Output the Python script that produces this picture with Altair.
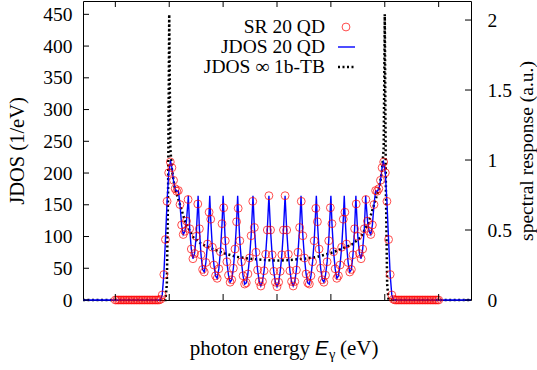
import altair as alt
import pandas as pd

FONT = "Liberation Serif"
FS = 19.5
FT = 20.5

# ---------------- data ----------------
# SR 20 QD (spectral response, a.u., right axis)
sr_energy = [
    1.65, 1.6515, 1.653, 1.6545, 1.656, 1.6575, 1.659, 1.6605, 1.662, 1.6635,
    1.665, 1.6665, 1.668, 1.6695, 1.671, 1.6725, 1.674, 1.6755, 1.677, 1.6785,
    1.68, 1.6815, 1.683, 1.6845, 1.686, 1.6875, 1.689, 1.6905, 1.692, 1.6935,
    1.695, 1.6965, 1.698, 1.6995, 1.701, 1.7025, 1.704, 1.7055, 1.707, 1.7085,
    1.71, 1.7115, 1.713, 1.7145, 1.716, 1.7175, 1.719, 1.7205, 1.722, 1.7235,
    1.725, 1.7265, 1.728, 1.7295, 1.731, 1.7325, 1.734, 1.7355, 1.737, 1.7385,
    1.74, 1.7415, 1.743, 1.7445, 1.746, 1.7475, 1.749, 1.7505, 1.752, 1.7535,
    1.755, 1.7565, 1.758, 1.7595, 1.761, 1.7625, 1.764, 1.7655, 1.767, 1.7685,
    1.77, 1.7715, 1.773, 1.7745, 1.776, 1.7775, 1.779, 1.7805, 1.782, 1.7835,
    1.785, 1.7865, 1.788, 1.7895, 1.791, 1.7925, 1.794, 1.7955, 1.797, 1.7985,
    1.8, 1.8015, 1.803, 1.8045, 1.806, 1.8075, 1.809, 1.8105, 1.812, 1.8135,
    1.815, 1.8165, 1.818, 1.8195, 1.821, 1.8225, 1.824, 1.8255, 1.827, 1.8285,
    1.83, 1.8315, 1.833, 1.8345, 1.836, 1.8375, 1.839, 1.8405, 1.842, 1.8435,
    1.845, 1.8465, 1.848, 1.8495, 1.851, 1.8525, 1.854, 1.8555, 1.857, 1.8585,
    1.86, 1.8615, 1.863, 1.8645, 1.866, 1.8675, 1.869, 1.8705, 1.872, 1.8735,
    1.875, 1.8765, 1.878, 1.8795, 1.881, 1.8825, 1.884, 1.8855, 1.887, 1.8885,
    1.89, 1.8915, 1.893, 1.8945, 1.896, 1.8975, 1.899, 1.9005, 1.902, 1.9035,
    1.905, 1.9065, 1.908, 1.9095, 1.911, 1.9125, 1.914, 1.9155, 1.917, 1.9185,
    1.92, 1.9215, 1.923, 1.9245, 1.926, 1.9275, 1.929, 1.9305, 1.932, 1.9335,
    1.935, 1.9365, 1.938, 1.9395, 1.941, 1.9425, 1.944, 1.9455, 1.947, 1.9485,
    1.95,
]
sr_value = [
    0, 0, 0, 0, 0, 0, 0, 0, 0, 0,
    0, 0, 0, 0, 0, 0, 0, 0, 0, 0,
    0, 0, 0, 0, 0, 0, 0, 0, 0.005, 0.036,
    0.182, 0.432, 0.705, 0.909, 0.986, 0.945, 0.855, 0.795, 0.777, 0.782,
    0.682, 0.536, 0.468, 0.491, 0.564, 0.718, 0.509, 0.364, 0.295, 0.332,
    0.455, 0.686, 0.509, 0.323, 0.218, 0.2, 0.268, 0.4, 0.627, 0.577,
    0.377, 0.25, 0.173, 0.155, 0.223, 0.345, 0.545, 0.659, 0.423, 0.273,
    0.177, 0.127, 0.145, 0.227, 0.364, 0.559, 0.655, 0.423, 0.273, 0.173,
    0.114, 0.123, 0.186, 0.3, 0.459, 0.705, 0.518, 0.341, 0.214, 0.132,
    0.1, 0.132, 0.209, 0.327, 0.5, 0.745, 0.5, 0.323, 0.205, 0.127,
    0.095, 0.127, 0.205, 0.323, 0.5, 0.745, 0.5, 0.327, 0.209, 0.132,
    0.1, 0.132, 0.214, 0.341, 0.518, 0.705, 0.459, 0.3, 0.186, 0.123,
    0.114, 0.173, 0.273, 0.423, 0.655, 0.559, 0.364, 0.227, 0.145, 0.127,
    0.177, 0.273, 0.423, 0.659, 0.545, 0.345, 0.223, 0.155, 0.173, 0.25,
    0.377, 0.577, 0.627, 0.4, 0.268, 0.2, 0.218, 0.323, 0.509, 0.686,
    0.455, 0.332, 0.295, 0.364, 0.509, 0.718, 0.564, 0.491, 0.468, 0.536,
    0.682, 0.782, 0.777, 0.795, 0.855, 0.945, 0.986, 0.909, 0.705, 0.432,
    0.182, 0.036, 0.005, 0, 0, 0, 0, 0, 0, 0,
    0, 0, 0, 0, 0, 0, 0, 0, 0, 0,
    0, 0, 0, 0, 0, 0, 0, 0, 0, 0,
    0,
]

# JDOS 20 QD (1/eV, left axis)
jdos_energy = [
    1.62, 1.6905, 1.692, 1.6935, 1.695, 1.6965, 1.698, 1.6995, 1.701, 1.7013,
    1.7025, 1.704, 1.7055, 1.707, 1.7085, 1.71, 1.7115, 1.713, 1.7145, 1.716,
    1.7175, 1.7177, 1.719, 1.7205, 1.722, 1.7235, 1.725, 1.7265, 1.7268, 1.728,
    1.7295, 1.731, 1.7325, 1.734, 1.7355, 1.737, 1.7376, 1.7385, 1.74, 1.7415,
    1.743, 1.7445, 1.746, 1.7475, 1.749, 1.75, 1.7505, 1.752, 1.7535, 1.755,
    1.7565, 1.758, 1.7595, 1.761, 1.7625, 1.7635, 1.764, 1.7655, 1.767, 1.7685,
    1.77, 1.7715, 1.773, 1.7745, 1.776, 1.7775, 1.7777, 1.779, 1.7805, 1.782,
    1.7835, 1.785, 1.7865, 1.788, 1.7895, 1.791, 1.7925, 1.794, 1.7955, 1.797,
    1.7985, 1.8, 1.8015, 1.803, 1.8045, 1.806, 1.8075, 1.809, 1.8105, 1.812,
    1.8135, 1.815, 1.8165, 1.818, 1.8195, 1.821, 1.8223, 1.8225, 1.824, 1.8255,
    1.827, 1.8285, 1.83, 1.8315, 1.833, 1.8345, 1.836, 1.8365, 1.8375, 1.839,
    1.8405, 1.842, 1.8435, 1.845, 1.8465, 1.848, 1.8495, 1.85, 1.851, 1.8525,
    1.854, 1.8555, 1.857, 1.8585, 1.86, 1.8615, 1.8624, 1.863, 1.8645, 1.866,
    1.8675, 1.869, 1.8705, 1.872, 1.8732, 1.8735, 1.875, 1.8765, 1.878, 1.8795,
    1.881, 1.8823, 1.8825, 1.884, 1.8855, 1.887, 1.8885, 1.89, 1.8915, 1.893,
    1.8945, 1.896, 1.8975, 1.8987, 1.899, 1.9005, 1.902, 1.9035, 1.905, 1.9065,
    1.908, 1.9095, 1.98,
]
jdos_value = [
    0, 0, 1, 8, 40, 95, 155, 200, 217, 218,
    208, 188, 175, 171, 172, 150, 118, 103, 108, 124,
    158, 164, 112, 80, 65, 73, 100, 151, 164, 112,
    71, 48, 44, 59, 88, 138, 164, 127, 83, 55,
    38, 34, 49, 76, 120, 164, 145, 93, 60, 39,
    28, 32, 50, 80, 123, 164, 144, 93, 60, 38,
    25, 27, 41, 66, 101, 155, 164, 114, 75, 47,
    29, 22, 29, 46, 72, 110, 164, 110, 71, 45,
    28, 21, 28, 45, 71, 110, 164, 110, 72, 46,
    29, 22, 29, 47, 75, 114, 164, 155, 101, 66,
    41, 27, 25, 38, 60, 93, 144, 164, 123, 80,
    50, 32, 28, 39, 60, 93, 145, 164, 120, 76,
    49, 34, 38, 55, 83, 127, 164, 138, 88, 59,
    44, 48, 71, 112, 164, 151, 100, 73, 65, 80,
    112, 164, 158, 124, 108, 103, 118, 150, 172, 171,
    175, 188, 208, 218, 217, 200, 155, 95, 40, 8,
    1, 0, 0,
]

# JDOS infinite 1-band tight binding (1/eV, left axis)
tb_energy = [
    1.62, 1.6965, 1.6978, 1.699, 1.70, 1.701, 1.7025, 1.705, 1.71, 1.715,
    1.7223, 1.73, 1.738, 1.75, 1.7626, 1.775, 1.7875, 1.80, 1.8125, 1.825,
    1.8374, 1.85, 1.862, 1.87, 1.8777, 1.885, 1.89, 1.895, 1.8975, 1.899,
    1.90, 1.901, 1.9022, 1.9035, 1.98,
]
tb_value = [
    0, 0, 25, 180, 450, 240, 205, 178, 150, 122,
    99, 88, 82, 74, 68, 65, 63, 62, 63, 65,
    68, 74, 82, 88, 99, 122, 150, 178, 205, 240,
    450, 180, 25, 0, 0,
]

x_ticks = [1.65, 1.70, 1.75, 1.80, 1.85, 1.90, 1.95]
yl_ticks = [0, 50, 100, 150, 200, 250, 300, 350, 400, 450]
yr_ticks = [0, 0.5, 1, 1.5, 2]
legend_labels = ["SR 20 QD", "JDOS 20 QD", "JDOS \u221e 1b-TB"]

# ---------------- chart ----------------
W, H = 388, 299
TICK = 6
xs = alt.Scale(domain=[1.62, 1.98], nice=False, zero=False)
yls = alt.Scale(domain=[0, 471], nice=False)
yrs = alt.Scale(domain=[0, 2.136], nice=False)

sr_df = pd.DataFrame({"E": sr_energy, "SR": sr_value})
jd_df = pd.DataFrame({"E": jdos_energy, "JDOS": jdos_value})
tb_df = pd.DataFrame({"E": tb_energy, "JDOS": tb_value})
xt_df = pd.DataFrame({"E": x_ticks})
ylt_df = pd.DataFrame({"JDOS": yl_ticks})
yrt_df = pd.DataFrame({"SR": yr_ticks})

x_axis = alt.Axis(values=x_ticks, format=".2~f", title=None, tickSize=0,
                  domain=False, grid=False, labelPadding=9, labelFlush=False)
yl_axis = alt.Axis(values=yl_ticks, orient="left", title="JDOS (1/eV)", tickSize=0,
                   domain=False, grid=False, labelPadding=11, titlePadding=15,
                   titleFontSize=FT)
yr_axis = alt.Axis(values=yr_ticks, format="~g", orient="right",
                   title="spectral response (a.u.)", tickSize=0, domain=False,
                   grid=False, labelPadding=16, titlePadding=6, titleAngle=270,
                   titleBaseline="top")

tb_line = alt.Chart(tb_df).mark_line(
    color="black", strokeWidth=2.5, strokeDash=[2, 2.5]
).encode(
    x=alt.X("E:Q", scale=xs, axis=x_axis),
    y=alt.Y("JDOS:Q", scale=yls, axis=yl_axis),
)
jd_line = alt.Chart(jd_df).mark_line(color="#0000ff", strokeWidth=1.4).encode(
    x=alt.X("E:Q", scale=xs, axis=None),
    y=alt.Y("JDOS:Q", scale=yls, axis=None),
)
sr_pts = alt.Chart(sr_df).mark_point(
    shape="circle", filled=False, color="red", size=62, strokeWidth=1
).encode(
    x=alt.X("E:Q", scale=xs, axis=None),
    y=alt.Y("SR:Q", scale=yrs, axis=yr_axis),
)
left_ticks = alt.Chart(ylt_df).mark_rule(color="black", strokeWidth=1).encode(
    y=alt.Y("JDOS:Q", scale=yls, axis=None),
    x=alt.value(0), x2=alt.value(TICK),
)
right_ticks = alt.Chart(yrt_df).mark_rule(color="black", strokeWidth=1).encode(
    y=alt.Y("SR:Q", scale=yrs, axis=None),
    x=alt.value(W), x2=alt.value(W - TICK),
)
top_ticks = alt.Chart(xt_df).mark_rule(color="black", strokeWidth=1).encode(
    x=alt.X("E:Q", scale=xs, axis=None),
    y=alt.value(0), y2=alt.value(TICK),
)
bottom_ticks = alt.Chart(xt_df).mark_rule(color="black", strokeWidth=1).encode(
    x=alt.X("E:Q", scale=xs, axis=None),
    y=alt.value(H), y2=alt.value(H - TICK),
)

# legend (drawn by hand, symbols right of labels as in the original)
LX_TEXT, LX_SYM, LX0, LX1 = 242, 263, 255, 272
ROWS = [26, 46, 66]
deco = []
for lab, yy in zip(legend_labels, ROWS):
    deco.append(
        alt.Chart(pd.DataFrame({"t": [lab]})).mark_text(
            align="right", baseline="middle", font=FONT, fontSize=FS, color="black"
        ).encode(text="t:N", x=alt.value(LX_TEXT), y=alt.value(yy))
    )
deco.append(alt.Chart(pd.DataFrame({"t": [legend_labels[0]]})).mark_point(
    shape="circle", filled=False, color="red", size=62, strokeWidth=1
).encode(x=alt.value(LX_SYM), y=alt.value(ROWS[0])))
deco.append(alt.Chart(pd.DataFrame({"t": [legend_labels[1]]})).mark_rule(
    color="#0000ff", strokeWidth=1.4
).encode(x=alt.value(LX0), x2=alt.value(LX1), y=alt.value(ROWS[1])))
deco.append(alt.Chart(pd.DataFrame({"t": [legend_labels[2]]})).mark_rule(
    color="black", strokeWidth=2.5, strokeDash=[2, 2.5]
).encode(x=alt.value(LX0), x2=alt.value(LX1), y=alt.value(ROWS[2])))

# x-axis title: photon energy E_gamma (eV)
TY = 348
xt_parts = [
    ("photon energy", FONT, "normal", 21, 227, TY, "right"),
    ("E", "Liberation Sans", "italic", 20, 232, TY, "left"),
    ("\u03b3", FONT, "normal", 14.5, 246, TY + 6, "left"),
    ("(eV)", FONT, "normal", 21, 257, TY, "left"),
]
for txt, fnt, sty, fs, xx, yy, al in xt_parts:
    deco.append(
        alt.Chart(pd.DataFrame({"t": [txt]})).mark_text(
            align=al, baseline="middle", font=fnt, fontStyle=sty,
            fontSize=fs, color="black"
        ).encode(text="t:N", x=alt.value(xx), y=alt.value(yy))
    )

chart = alt.layer(
    tb_line, jd_line, sr_pts, left_ticks, right_ticks, top_ticks, bottom_ticks, *deco
).resolve_scale(y="independent").properties(
    width=W, height=H,
    padding={"left": 83, "top": 1, "right": 66, "bottom": 70},
    autosize=alt.AutoSizeParams(type="none"),
).configure_view(
    stroke="black", strokeWidth=1
).configure_axis(
    labelFont=FONT, labelFontSize=FS, labelColor="black",
    titleFont=FONT, titleFontSize=FS, titleColor="black", titleFontWeight="normal",
)

chart.save("out.html", embed_options={"renderer": "svg", "actions": False})
